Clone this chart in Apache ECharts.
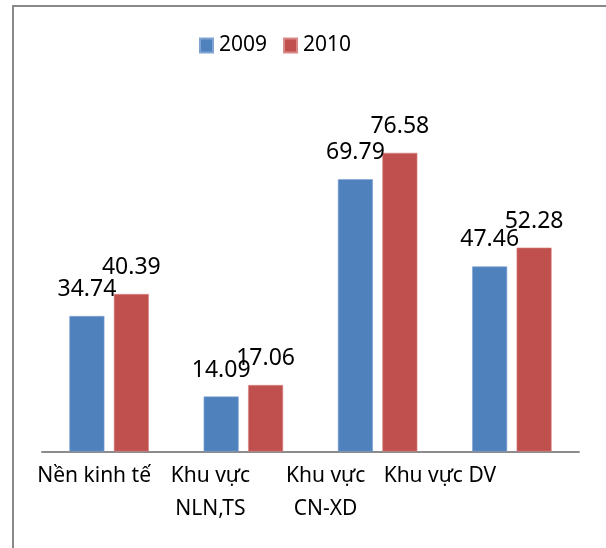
<!DOCTYPE html>
<html>
<head>
<meta charset="utf-8">
<script src="https://cdn.jsdelivr.net/npm/echarts@6/dist/echarts.min.js"></script>
<style>
html,body{margin:0;padding:0;background:#fff;}
#chart{width:606px;height:548px;}
</style>
</head>
<body>
<div id="chart"></div>
<script>
// ---- data ----
const categories = ["Nền kinh tế", "Khu vực\nNLN,TS", "Khu vực\nCN-XD", "Khu vực DV"];
const seriesNames = ["2009", "2010"];
const values2009 = [34.74, 14.09, 69.79, 47.46];
const values2010 = [40.39, 17.06, 76.58, 52.28];

// ---- styling ----
const FONT = '"Noto Sans", "Open Sans", sans-serif';
const labelShift = [15, 33, 52, 72]; // px, left shift of each category label

const rich = {};
labelShift.forEach((s, i) => {
  rich['c' + i] = {
    fontFamily: FONT, fontSize: 21, color: '#000', lineHeight: 33,
    padding: [0, 2 * s, 0, 0]
  };
});

const chart = echarts.init(document.getElementById('chart'), null, {renderer: 'canvas'});
chart.setOption({
  animation: false,
  backgroundColor: '#fff',
  legend: {
    data: seriesNames,
    left: 194, top: 30,
    itemWidth: 13, itemHeight: 14, itemGap: 16,
    icon: 'rect',
    textStyle: {fontFamily: FONT, fontSize: 21, color: '#000', padding: [0, 0, 0, 1]}
  },
  grid: {left: 42, right: 27, top: 100.5, bottom: 96.5, containLabel: false, outerBoundsMode: 'none'},
  xAxis: {
    type: 'category',
    data: categories,
    axisLine: {lineStyle: {color: '#8c8c8c', width: 2}},
    axisTick: {show: false},
    axisLabel: {
      interval: 0, margin: 8, hideOverlap: false,
      formatter: (v, i) => v.split('\n').map(l => '{c' + i + '|' + l + '}').join('\n'),
      rich: rich
    }
  },
  yAxis: {
    type: 'value', min: 0, max: 90,
    show: false, splitLine: {show: false}
  },
  series: [
    {
      name: seriesNames[0], type: 'bar', data: values2009,
      barWidth: 35, barGap: '27%',
      itemStyle: {color: '#4F81BD', borderColor: '#7fa3d3', borderWidth: 0.6},
      label: {show: true, position: 'top', distance: 15, fontFamily: FONT, fontSize: 23, color: '#000'}
    },
    {
      name: seriesNames[1], type: 'bar', data: values2010,
      barWidth: 35, barGap: '27%',
      itemStyle: {color: '#C0504D', borderColor: '#d98a88', borderWidth: 0.6},
      label: {show: true, position: 'top', distance: 15, fontFamily: FONT, fontSize: 23, color: '#000'}
    }
  ],
  graphic: [
    {type: 'line', shape: {x1: 12, y1: 6, x2: 606, y2: 6}, style: {stroke: '#898989', lineWidth: 2}},
    {type: 'line', shape: {x1: 13, y1: 5, x2: 13, y2: 548}, style: {stroke: '#898989', lineWidth: 2}}
  ]
});
</script>
</body>
</html>
